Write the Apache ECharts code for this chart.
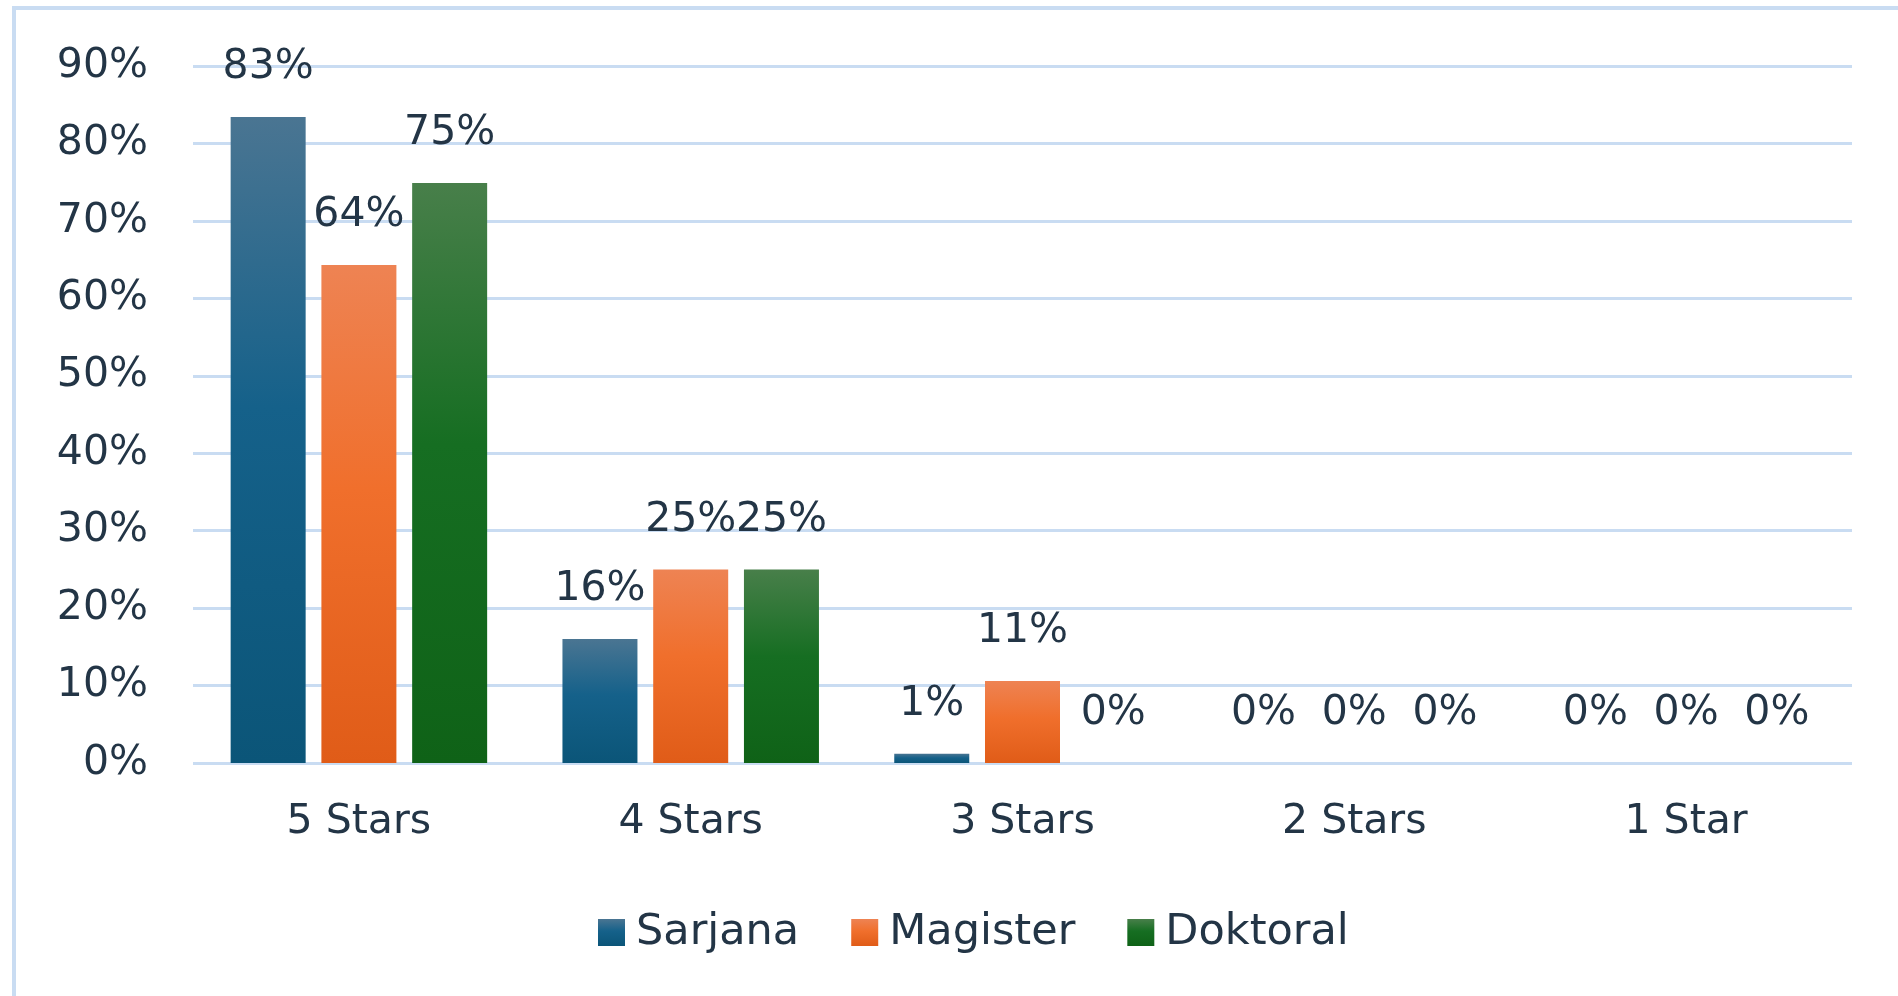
<!DOCTYPE html>
<html>
<head>
<meta charset="utf-8">
<script src="https://cdn.jsdelivr.net/npm/echarts@6/dist/echarts.min.js"></script>
<style>
  html, body { margin: 0; padding: 0; background: #fff; }
  #wrap { position: relative; width: 1898px; height: 996px; overflow: hidden; }
  #frame { position: absolute; left: 12px; top: 6px; width: 1900px; height: 1000px;
           border-left: 4px solid #C9DCF2; border-top: 4px solid #C9DCF2; }
  #chart { position: absolute; left: 0; top: 0; width: 1898px; height: 996px; }
</style>
</head>
<body>
<div id="wrap">
  <div id="frame"></div>
  <div id="chart"></div>
</div>
<script>
// ratings per study level, in percent
let categories = ['5 Stars', '4 Stars', '3 Stars', '2 Stars', '1 Star'];
let sarjana = [83.4, 16, 1.2, 0, 0];
let magister = [64.3, 25, 10.6, 0, 0];
let doktoral = [74.9, 25, 0, 0, 0];
let yTicks = [0, 90, 10];

function grad(top, mid, bottom){
    return new echarts.graphic.LinearGradient(0, 0, 0, 1, [
        {offset: 0, color: top},
        {offset: 0.45, color: mid},
        {offset: 1, color: bottom}
    ]);
}

let textColor = '#233546';
let font = 'DejaVu Sans';
let fs = 41;

function makeSeries(name, data, color){
    return {
        name: name,
        type: 'bar',
        data: data,
        barWidth: 75,
        barGap: '21%',
        itemStyle: { color: color },
        label: {
            show: true,
            position: 'top',
            distance: 29,
            color: textColor,
            fontFamily: font,
            fontSize: fs,
            formatter: function(p){ return Math.round(p.value) + '%'; }
        }
    };
}

let chart = echarts.init(document.getElementById('chart'));
let option = {
    animation: false,
    grid: { left: 193, right: 46, top: 66, bottom: 233 },
    legend: {
        data: ['Sarjana', 'Magister', 'Doktoral'],
        left: 593,
        top: 906,
        itemWidth: 27,
        itemHeight: 27,
        itemGap: 52,
        icon: 'rect',
        textStyle: { color: textColor, fontFamily: font, fontSize: 43, padding: [0, 0, 0, 6] }
    },
    xAxis: {
        type: 'category',
        data: categories,
        axisLine: { show: false },
        axisTick: { show: false },
        axisLabel: { color: textColor, fontFamily: font, fontSize: fs, margin: 39 }
    },
    yAxis: {
        type: 'value',
        min: yTicks[0],
        max: yTicks[1],
        interval: yTicks[2],
        axisLine: { show: false },
        axisTick: { show: false },
        axisLabel: { color: textColor, fontFamily: font, fontSize: fs, margin: 45, formatter: '{value}%' },
        splitLine: { lineStyle: { color: '#C9DCF2', width: 3 } }
    },
    series: [
        makeSeries('Sarjana', sarjana, grad('#4A7592', '#15618A', '#0B5578')),
        makeSeries('Magister', magister, grad('#EE8353', '#F06F2C', '#E05C18')),
        makeSeries('Doktoral', doktoral, grad('#487F4A', '#166E22', '#0F6217'))
    ]
};
chart.setOption(option);
</script>
</body>
</html>
